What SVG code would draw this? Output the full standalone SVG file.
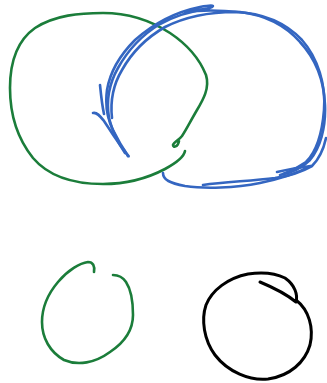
<svg xmlns="http://www.w3.org/2000/svg" width="327" height="383" viewBox="0 0 327 383">
<style>
.s{fill:none;stroke-linecap:round;stroke-linejoin:round;stroke-width:2.6}
.g{stroke:#1b7d3a}
.b{stroke:#3466c1}
.k{stroke:#000;stroke-width:3}
</style>
<rect width="327" height="383" fill="#fff"/>
<g id="green-loop">
<path class="s g" d="M185,151 C184,157 176,163 165,169 C148,178 128,184 103,184 C75,184 50,178 33,158 C17,138 10,115 10,88 C10,60 18,40 35,28 C55,15 80,13 103,13 C128,13 150,20 170,33 C188,45 200,60 206,75 C210,88 203,100 197,110 C190,122 186,130 182,136 C179,140 174,142 173,145 C173,148 178,147 179,141"/>
</g>
<g id="blue-loop">
<path class="s b" d="M128,156 C124,150 118,140 113,130 C108,120 105,105 107,90 C110,72 120,55 135,40 C152,25 175,12 200,7 C210,5 215,5 212,7 C205,10 195,10 185,12 C200,10 220,10 240,12 C265,15 285,25 300,42 C315,58 324,80 325,105 C326,128 320,148 310,160 C300,170 290,173 280,175"/>
<path class="s b" d="M125,153 C118,143 112,130 109,118 C106,100 110,82 118,68 C128,50 142,35 160,24 C175,16 192,11 206,9"/>
<path class="s b" d="M112,118 C110,100 113,85 122,70 C132,52 146,38 165,27 C185,17 210,12 235,12 C262,13 285,22 302,40 C318,58 326,85 324,110 C322,135 316,152 306,162 C296,169 290,171 283,174"/>
<path class="s b" d="M163,173 C163,180 170,183 185,186 C205,189 235,188 260,183 C280,179 298,173 310,166"/>
<path class="s b" d="M203,185 C225,182 250,181 275,178 C295,175 305,170 312,166 C318,160 323,152 326,138"/>
<path class="s b" d="M277,172 C285,170 293,168 311,166"/>
<path class="s b" d="M100,85 C101,95 102,105 104,114"/>
<path class="s b" d="M93,113 C97,112 100,116 104,121 C110,130 118,143 124,150 C127,155 130,157 128,156"/>
</g>
<g id="green-small">
<path class="s g" d="M94,272 C95,266 93,262 88,262 C80,263 68,270 58,282 C47,295 42,310 42,322 C42,338 50,352 64,360 C78,366 95,363 110,352 C125,342 133,330 133,315 C133,300 130,288 126,282 C122,276 118,275 113,275"/>
</g>
<g id="black-circle">
<path class="s k" d="M260,282 C272,287 285,293 296,302 C298,295 295,285 285,278 C275,273 262,272 248,274 C228,278 212,290 206,305 C201,320 204,340 215,355 C228,372 250,381 268,379 C290,376 305,362 310,345 C314,328 309,310 296,300"/>
</g>
</svg>
